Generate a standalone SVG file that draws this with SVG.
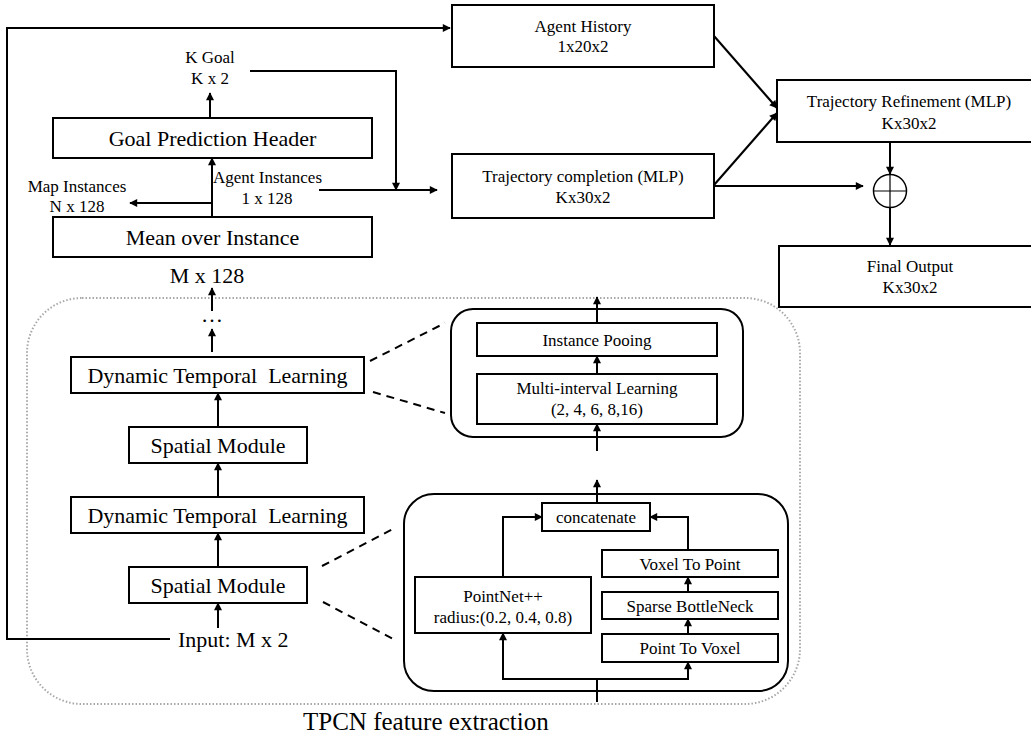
<svg xmlns="http://www.w3.org/2000/svg" width="1031" height="734" viewBox="0 0 1031 734">
<style>
text{font-family:"Liberation Serif","Times New Roman",serif;fill:#000;}
.s{font-size:17px;text-anchor:middle;}
.l{font-size:22px;text-anchor:middle;}
.box{fill:#fff;stroke:#000;stroke-width:2;}
.rbox{fill:none;stroke:#000;stroke-width:2;}
.ln{fill:none;stroke:#000;stroke-width:2;}
.arr{fill:none;stroke:#000;stroke-width:2;marker-end:url(#ah);}
.dash{fill:none;stroke:#000;stroke-width:2;stroke-dasharray:8 6;}
</style>
<defs>
<marker id="ah" viewBox="0 0 10 10" refX="9" refY="5" markerWidth="9" markerHeight="8" markerUnits="userSpaceOnUse" orient="auto">
<path d="M0,0 L10,5 L0,10 z" fill="#000"/>
</marker>
</defs>
<rect width="1031" height="734" fill="#fff"/>

<g id="tpcn-region">
<rect x="27" y="298" width="773" height="406" rx="55" ry="55" fill="none" stroke="#a8a8a8" stroke-width="2" stroke-dasharray="1.5 2"/>
<text x="303" y="730" style="font-size:25px">TPCN feature extraction</text>
</g>

<g id="connectors">
<path class="arr" d="M170,639 H7 V28 H450"/>
<path class="arr" d="M210,118 V93"/>
<path class="arr" d="M250,71 H396 V190"/>
<path class="arr" d="M212,217 V158"/>
<path class="arr" d="M212,203 H130"/>
<path class="arr" d="M319,190 H437"/>
<path class="arr" d="M714,36 L777,108"/>
<path class="arr" d="M714,185 L777,113"/>
<path class="arr" d="M714,186 H863"/>
<path class="arr" d="M890,142 V174"/>
<path class="arr" d="M890,208 V245"/>
<path class="arr" d="M212,311 V288"/>
<path class="arr" d="M212,352 V329"/>
<path class="arr" d="M218,427 V393"/>
<path class="arr" d="M218,497 V463"/>
<path class="arr" d="M218,567 V533"/>
<path class="arr" d="M218,628 V603"/>
<path class="dash" d="M370,361 L445,323"/>
<path class="dash" d="M373,392 L445,413"/>
<path class="dash" d="M322,566 L395,528"/>
<path class="dash" d="M323,602 L395,640"/>
<path class="arr" d="M597,323 V297"/>
<path class="arr" d="M597,374 V356"/>
<path class="arr" d="M597,451 V424"/>
<path class="arr" d="M597,503 V480"/>
<path class="arr" d="M503,577 V517 H542"/>
<path class="arr" d="M688,550 V517 H650"/>
<path class="arr" d="M688,592 V577"/>
<path class="arr" d="M688,634 V619"/>
<path class="ln" d="M597,702 V679"/>
<path class="arr" d="M597,679 H503 V633"/>
<path class="arr" d="M597,679 H688 V662"/>
</g>

<g id="k-goal">
<text class="s" x="210" y="63">K Goal</text>
<text class="s" x="210" y="84">K x 2</text>
</g>
<g id="goal-header">
<rect class="box" x="53" y="118" width="319" height="40"/>
<text class="l" x="212.5" y="146">Goal Prediction Header</text>
</g>
<g id="map-instances">
<text class="s" x="77" y="192">Map Instances</text>
<text class="s" x="77" y="212">N x 128</text>
</g>
<g id="agent-instances">
<text class="s" x="267.5" y="183">Agent Instances</text>
<text class="s" x="267" y="204">1 x 128</text>
</g>
<g id="mean-over-instance">
<rect class="box" x="53" y="217" width="319" height="40"/>
<text class="l" x="212.5" y="245">Mean over Instance</text>
</g>
<g id="m128">
<text class="l" x="207" y="283">M x 128</text>
<text class="l" x="212" y="322">…</text>
</g>
<g id="agent-history">
<rect class="box" x="452" y="5" width="262" height="62"/>
<text class="s" x="583" y="32">Agent History</text>
<text class="s" x="583" y="52">1x20x2</text>
</g>
<g id="traj-completion">
<rect class="box" x="452" y="154" width="262" height="64"/>
<text class="s" x="583" y="182">Trajectory completion (MLP)</text>
<text class="s" x="583" y="203">Kx30x2</text>
</g>
<g id="traj-refinement">
<rect class="box" x="777" y="80" width="270" height="62"/>
<text class="s" x="909" y="107">Trajectory Refinement (MLP)</text>
<text class="s" x="909" y="129">Kx30x2</text>
</g>
<g id="oplus">
<circle cx="890" cy="191" r="16.5" fill="#fff" stroke="#000" stroke-width="1.5"/>
<path d="M873.5,191 H906.5 M890,174.5 V207.5" stroke="#000" stroke-width="1.2"/>
</g>
<g id="final-output">
<rect class="box" x="779" y="246" width="270" height="61"/>
<text class="s" x="910" y="272">Final Output</text>
<text class="s" x="910" y="293">Kx30x2</text>
</g>

<g id="dtl-1">
<rect class="box" x="71" y="357" width="293" height="36"/>
<text class="l" x="217.5" y="383" xml:space="preserve">Dynamic Temporal  Learning</text>
</g>
<g id="spatial-1">
<rect class="box" x="129" y="427" width="178" height="36"/>
<text class="l" x="218" y="453">Spatial Module</text>
</g>
<g id="dtl-2">
<rect class="box" x="71" y="497" width="293" height="36"/>
<text class="l" x="217.5" y="523" xml:space="preserve">Dynamic Temporal  Learning</text>
</g>
<g id="spatial-2">
<rect class="box" x="129" y="567" width="178" height="36"/>
<text class="l" x="218" y="593">Spatial Module</text>
</g>
<g id="input">
<text x="178" y="647" style="font-size:22px">Input: M x 2</text>
</g>

<g id="dtl-detail">
<rect class="rbox" x="451" y="309" width="292" height="128" rx="22" ry="22"/>
</g>
<g id="instance-pooling">
<rect class="box" x="477" y="323" width="240" height="33"/>
<text class="s" x="597" y="345.5">Instance Pooing</text>
</g>
<g id="multi-interval">
<rect class="box" x="477" y="374" width="240" height="50"/>
<text class="s" x="597" y="394">Multi-interval Learning</text>
<text class="s" x="597" y="415">(2, 4, 6, 8,16)</text>
</g>

<g id="spatial-detail">
<rect class="rbox" x="404" y="494" width="384" height="197" rx="30" ry="30"/>
</g>
<g id="concatenate">
<rect class="box" x="542" y="503" width="108" height="28"/>
<text class="s" x="596" y="523">concatenate</text>
</g>
<g id="pointnet">
<rect class="box" x="415" y="577" width="176" height="56"/>
<text class="s" x="503" y="602">PointNet++</text>
<text class="s" x="503" y="623">radius:(0.2, 0.4, 0.8)</text>
</g>
<g id="voxel-to-point">
<rect class="box" x="602" y="550" width="176" height="27"/>
<text class="s" x="690" y="569.5">Voxel To Point</text>
</g>
<g id="sparse-bottleneck">
<rect class="box" x="602" y="592" width="176" height="27"/>
<text class="s" x="690" y="611.5">Sparse BottleNeck</text>
</g>
<g id="point-to-voxel">
<rect class="box" x="602" y="634" width="176" height="28"/>
<text class="s" x="690" y="654">Point To Voxel</text>
</g>
</svg>
